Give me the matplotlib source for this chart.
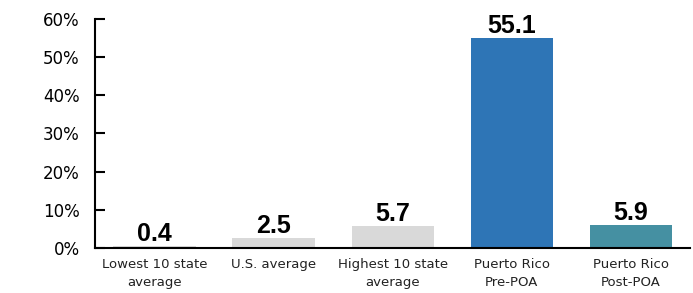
import matplotlib
matplotlib.use("Agg")
import matplotlib.pyplot as plt
from matplotlib.ticker import PercentFormatter

categories = ['Lowest 10 state\naverage', 'U.S. average', 'Highest 10 state\naverage',
              'Puerto Rico\nPre-POA', 'Puerto Rico\nPost-POA']
values = [0.4, 2.5, 5.7, 55.1, 5.9]
colors = ['#d9d9d9', '#d9d9d9', '#d9d9d9', '#2e75b6', '#4590a2']

fig = plt.figure(figsize=(6.93, 2.93), dpi=100)
ax = fig.add_axes([0.137, 0.154, 0.859, 0.781])

x = range(len(values))
bars = ax.bar(x, values, width=0.69, color=colors)

for xi, v in zip(x, values):
    ax.annotate(f'{v:.1f}', (xi, v), xytext=(0, 0), textcoords='offset points',
                ha='center', va='bottom', fontsize=18, fontweight='bold',
                family='Liberation Sans')

ax.set_xlim(-0.5, 4.5)
ax.set_ylim(0, 60)
ax.set_yticks(range(0, 61, 10))
ax.yaxis.set_major_formatter(PercentFormatter(decimals=0))
ax.set_xticks(list(x))
ax.set_xticklabels(categories, fontsize=9.5, color='#222222', linespacing=1.5)
ax.tick_params(axis='x', length=0, pad=7)
ax.tick_params(axis='y', direction='in', length=7, width=1.5, labelsize=12,
               colors='black', pad=11)

ax.spines['top'].set_visible(False)
ax.spines['right'].set_visible(False)
ax.spines['left'].set_linewidth(1.5)
ax.spines['bottom'].set_linewidth(1.5)

fig.savefig('out.png', dpi=100)
